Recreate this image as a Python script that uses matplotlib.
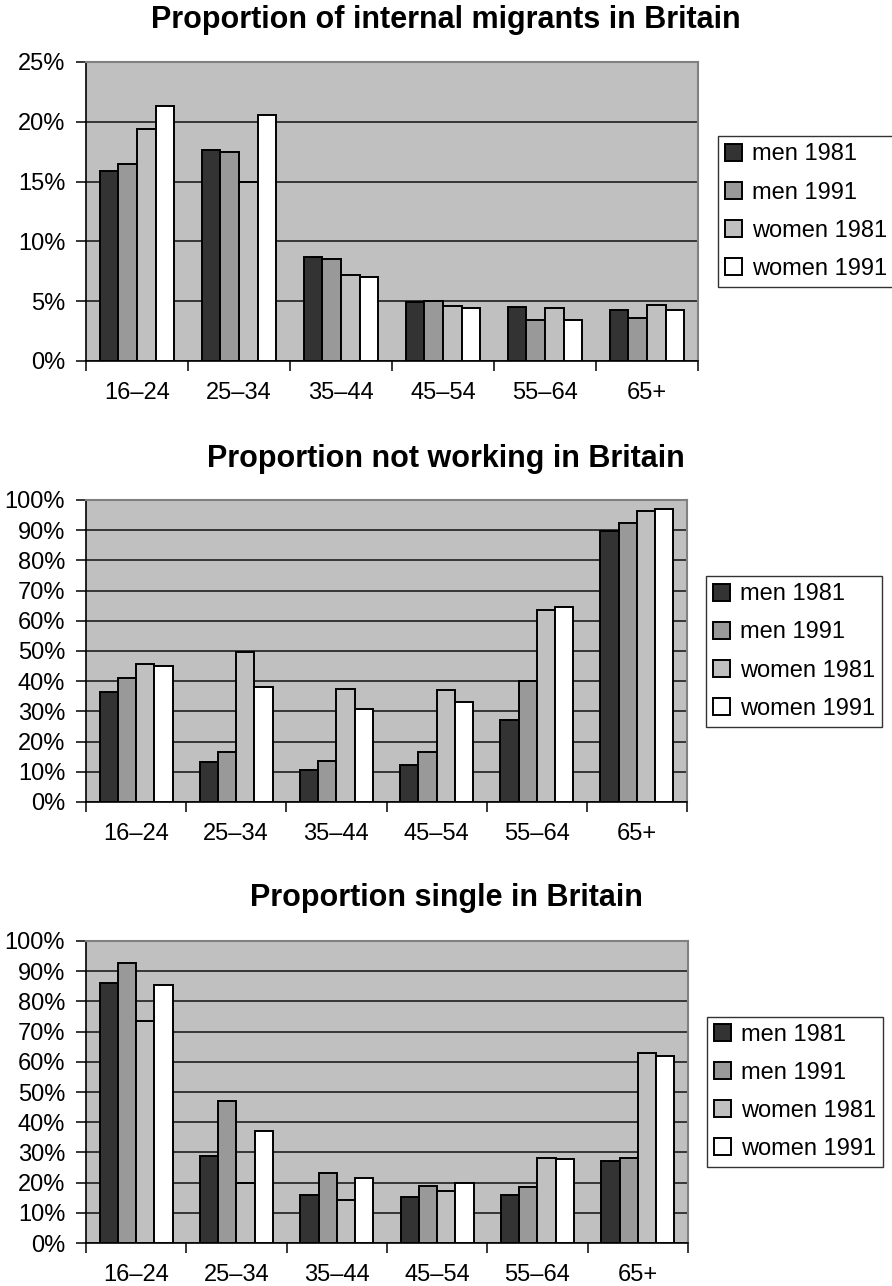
import numpy as np
import matplotlib.pyplot as plt
from matplotlib.ticker import FixedLocator, PercentFormatter

plt.rcParams['font.family'] = ['Liberation Sans', 'DejaVu Sans']

# data
ages = ['16–24', '25–34', '35–44', '45–54', '55–64', '65+']
series = ['men 1981', 'men 1991', 'women 1981', 'women 1991']

migrants = [
    [15.9, 17.6, 8.7, 4.9, 4.5, 4.3],   # men 1981
    [16.5, 17.5, 8.5, 5.0, 3.4, 3.6],   # men 1991
    [19.4, 15.0, 7.2, 4.6, 4.4, 4.7],   # women 1981
    [21.3, 20.6, 7.0, 4.4, 3.4, 4.3],   # women 1991
]
not_working = [
    [36.3, 13.3, 10.7, 12.2, 27.0, 89.6],
    [41.0, 16.6, 13.4, 16.6, 40.0, 92.3],
    [45.7, 49.7, 37.5, 37.1, 63.6, 96.2],
    [45.1, 38.2, 30.8, 33.1, 64.7, 96.9],
]
single = [
    [86.0, 28.9, 15.9, 15.2, 16.0, 27.1],
    [92.7, 46.9, 23.3, 18.9, 18.6, 28.2],
    [73.6, 20.0, 14.4, 17.1, 28.0, 62.8],
    [85.3, 37.0, 21.5, 19.9, 27.8, 61.9],
]

colors = ['#333333', '#999999', '#c0c0c0', '#ffffff']
bg = '#c0c0c0'

fig = plt.figure(figsize=(8.92, 12.86), dpi=100, facecolor='white')

panels = [
    # title, data, ymax, ystep, axes rect, legend anchor, title baseline
    ('Proportion of internal migrants in Britain', migrants, 25, 5,
     [0.0964, 0.7193, 0.6861, 0.2325], (0.805, 0.8355), 0.9782),
    ('Proportion not working in Britain', not_working, 100, 10,
     [0.0964, 0.3764, 0.6738, 0.2348], (0.7915, 0.4934), 0.6369),
    ('Proportion single in Britain', single, 100, 10,
     [0.0964, 0.0334, 0.6749, 0.2349], (0.7926, 0.1509), 0.2955),
]

x = np.arange(len(ages))
w = 0.182

for title, data, ymax, ystep, rect, leg_xy, ty in panels:
    ax = fig.add_axes(rect)
    ax.set_facecolor(bg)
    ax.set_axisbelow(True)
    ax.yaxis.grid(True, color='#111111', lw=1.1)

    bars = []
    for i, vals in enumerate(data):
        b = ax.bar(x + (i - 1.5) * w, vals, w, color=colors[i],
                   edgecolor='black', linewidth=1.4, label=series[i], zorder=3)
        bars.append(b)

    ax.set_xlim(-0.5, len(ages) - 0.5)
    ax.set_ylim(0, ymax)
    ax.set_yticks(np.arange(0, ymax + 0.1, ystep))
    ax.yaxis.set_major_formatter(PercentFormatter(decimals=0))

    # ticks between categories, labels at the centres
    ax.xaxis.set_major_locator(FixedLocator(np.arange(-0.5, len(ages), 1)))
    ax.xaxis.set_minor_locator(FixedLocator(x))
    ax.set_xticklabels([])
    ax.set_xticklabels(ages, minor=True)
    ax.tick_params(axis='x', which='major', length=7, width=1.1, direction='out')
    ax.tick_params(axis='x', which='minor', length=0, pad=15, labelsize=17)
    ax.tick_params(axis='y', length=7, width=1.1, pad=8, labelsize=17)

    ax.spines['left'].set_color('black')
    ax.spines['bottom'].set_color('black')
    ax.spines['left'].set_linewidth(1.2)
    ax.spines['bottom'].set_linewidth(1.2)
    ax.spines['top'].set_color('#808080')
    ax.spines['right'].set_color('#808080')
    ax.spines['top'].set_linewidth(1.5)
    ax.spines['right'].set_linewidth(1.5)

    leg = fig.legend(handles=bars, labels=series, loc='center left',
                     bbox_to_anchor=leg_xy, fontsize=17, frameon=True,
                     fancybox=False, edgecolor='black', handlelength=0.72,
                     handleheight=0.72, handletextpad=0.42, labelspacing=0.68,
                     borderpad=0.3, borderaxespad=0)
    leg.get_frame().set_linewidth(1.0)

    fig.text(0.5, ty, title, ha='center', va='baseline', fontsize=22,
             fontweight='bold')

fig.savefig('out.png', dpi=100, facecolor='white')
